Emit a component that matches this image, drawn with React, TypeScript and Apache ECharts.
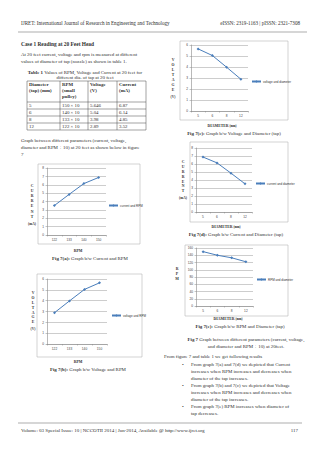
import React, { useEffect, useRef } from "react";
import * as echarts from "echarts";

// ---------- data ----------
const diameters = ["5", "6", "8", "12"];
const rpmCategories = ["122", "133", "140", "150"];
const rpmByDiameter = [150, 140, 133, 122];
const voltageByDiameter = [5.646, 5.04, 3.98, 2.89];
const currentByDiameter = [6.87, 6.14, 4.85, 3.52];
const currentByRpm = [3.52, 4.85, 6.14, 6.87];
const voltageByRpm = [2.89, 3.98, 5.04, 5.646];

const SERIF = '"Liberation Serif", "Times New Roman", serif';
const SANS = '"Liberation Sans", Arial, sans-serif';
const TXT = "#303030";
const BLUE = "#4a7ebb";

function t(text: string, x: number, y: number, o: any = {}) {
  return {
    type: "text",
    x,
    y,
    silent: true,
    style: {
      text,
      fontSize: o.size ?? 4.9,
      fontFamily: o.family ?? SERIF,
      fontWeight: o.bold ? "bold" : "normal",
      fill: o.fill ?? TXT,
      align: o.align ?? "left",
      verticalAlign: o.va ?? "middle",
      lineHeight: o.lh,
      rich: o.rich,
    },
  };
}
function ln(x1: number, y1: number, x2: number, y2: number, stroke = "#555", w = 0.5) {
  return { type: "line", silent: true, shape: { x1, y1, x2, y2 }, style: { stroke, lineWidth: w } };
}
function box(x: number, y: number, w: number, h: number) {
  return { type: "rect", silent: true, shape: { x, y, width: w, height: h }, style: { fill: "none", stroke: "#b5b5b5", lineWidth: 0.6 } };
}
const boldRich = (size = 4.9) => ({ b: { fontWeight: "bold", fontSize: size, fontFamily: SERIF, fill: TXT } });

const charts = [
  { name: "current and RPM", cats: rpmCategories, data: currentByRpm, max: 8, interval: 1,
    grid: { left: 47, top: 168, width: 59, height: 67 }, box: [38, 164, 102, 80], legend: [108, 206],
    yTitle: ["C", "U", "R", "R", "E", "N", "T"], yUnit: "(mA)", yTitleX: 32, yTitleTop: 183, yStep: 5.2,
    xTitle: "RPM", xTitleX: 78, xTitleY: 251, caption: ["Fig 7(a):", " Graph b/w Current and RPM"], capX: 90, capY: 258 },
  { name: "voltage and RPM", cats: rpmCategories, data: voltageByRpm, max: 6, interval: 1,
    grid: { left: 47, top: 279, width: 60, height: 65 }, box: [37, 274, 105, 83], legend: [111, 316],
    yTitle: ["V", "O", "L", "T", "A", "G", "E"], yUnit: "(V)", yTitleX: 33, yTitleTop: 291, yStep: 4.8,
    xTitle: "RPM", xTitleX: 78, xTitleY: 362, caption: ["Fig 7(b):", " Graph b/w Voltage and RPM"], capX: 88, capY: 369 },
  { name: "voltage and diameter", cats: diameters, data: voltageByDiameter, max: 6, interval: 1,
    grid: { left: 191, top: 45, width: 57, height: 66 }, box: [180, 41, 108, 79], legend: [251, 82],
    yTitle: ["V", "O", "L", "T", "A", "G", "E"], yUnit: "(V)", yTitleX: 173, yTitleTop: 57, yStep: 5.1,
    xTitle: "DIAMETER", xTitleX: 222, xTitleY: 126, caption: ["Fig 7(c):", " Graph b/w Voltage and Diameter (tap)"], capX: 234, capY: 133 },
  { name: "current and diameter", cats: diameters, data: currentByDiameter, max: 8, interval: 1,
    grid: { left: 196, top: 148, width: 56, height: 64 }, box: [190, 142, 98, 80], legend: [255, 184],
    yTitle: ["C", "U", "R", "R", "E", "N", "T"], yUnit: "(mA)", yTitleX: 183, yTitleTop: 160, yStep: 4.8,
    xTitle: "DIAMETER", xTitleX: 226, xTitleY: 227, caption: ["Fig 7(d):", " Graph b/w Current and Diameter (tap)"], capX: 236, capY: 234 },
  { name: "RPM and diameter", cats: diameters, data: rpmByDiameter, max: 160, interval: 20,
    grid: { left: 196, top: 248, width: 57, height: 58 }, box: [185, 245, 103, 71], legend: [256, 280],
    yTitle: ["R", "P", "M"], yUnit: "", yTitleX: 177, yTitleTop: 266, yStep: 5,
    xTitle: "DIAMETER", xTitleX: 228, xTitleY: 319, caption: ["Fig 7(e):", " Graph b/w RPM and Diameter (tap)"], capX: 240, capY: 326 },
];

function buildOption() {
  const grid: any[] = [], xAxis: any[] = [], yAxis: any[] = [], series: any[] = [], legend: any[] = [];
  const g: any[] = [];

  charts.forEach((c, i) => {
    grid.push({ ...c.grid, containLabel: false });
    xAxis.push({
      type: "category", gridIndex: i, data: c.cats, boundaryGap: true,
      axisLine: { lineStyle: { color: "#8a8a8a", width: 0.6 } },
      axisTick: { show: true, length: 1.5, lineStyle: { color: "#8a8a8a", width: 0.5 } },
      axisLabel: { fontSize: 3.2, fontFamily: SANS, color: "#444", margin: 3 },
    });
    yAxis.push({
      type: "value", gridIndex: i, min: 0, max: c.max, interval: c.interval,
      axisLine: { show: true, lineStyle: { color: "#8a8a8a", width: 0.6 } },
      axisTick: { show: true, length: 1.5, lineStyle: { color: "#8a8a8a", width: 0.5 } },
      axisLabel: { fontSize: 3.2, fontFamily: SANS, color: "#444", margin: 3 },
      splitLine: { lineStyle: { color: "#9a9a9a", width: 0.5 } },
    });
    series.push({
      type: "line", name: c.name, xAxisIndex: i, yAxisIndex: i, data: c.data,
      symbol: "diamond", symbolSize: 3, itemStyle: { color: BLUE },
      lineStyle: { color: BLUE, width: 1 },
    });
    legend.push({
      data: [c.name], left: c.legend[0], top: c.legend[1] - 2, padding: 0,
      itemWidth: 9, itemHeight: 3, itemGap: 2,
      textStyle: { fontSize: 3, fontFamily: SANS, color: "#333", padding: [0, 0, 0, -3] },
    });

    g.push(box(c.box[0], c.box[1], c.box[2], c.box[3]));
    g.push(t(c.yTitle.join("\n"), c.yTitleX, c.yTitleTop, { size: 3.8, bold: true, align: "center", va: "top", lh: c.yStep }));
    if (c.yUnit) {
      g.push(t(c.yUnit, c.yTitleX, c.yTitleTop + c.yTitle.length * c.yStep + 2.5, { size: 3.5, bold: true, align: "center", va: "top" }));
    }
    if (c.xTitle === "RPM") {
      g.push(t(c.xTitle, c.xTitleX, c.xTitleY, { size: 3.8, bold: true, align: "center" }));
    } else {
      g.push(t("{b|DIAMETER} {s|(mm)}", c.xTitleX, c.xTitleY, {
        size: 3.8, align: "center",
        rich: { b: { fontWeight: "bold", fontSize: 3.8, fontFamily: SERIF, fill: TXT }, s: { fontSize: 3, fontFamily: SERIF, fontWeight: "bold", fill: TXT } },
      }));
    }
    g.push(t(`{b|${c.caption[0]}}${c.caption[1]}`, c.capX, c.capY, { size: 4.9, align: "center", rich: boldRich(4.9) }));
  });

  // header
  g.push(t("IJRET: International Journal of Research in Engineering and Technology", 21, 23, { size: 5.1 }));
  g.push(t("eISSN: 2319-1163 | pISSN: 2321-7308", 300, 23, { size: 5.1, align: "right" }));
  g.push(ln(18, 32, 307, 32, "#777", 0.6));

  // left column text
  g.push(t("Case 1 Reading at 20 Feet Head", 21, 44, { size: 5.4, bold: true }));
  g.push(t("At 20 feet current, voltage and rpm is measured at different", 21, 54));
  g.push(t("values of diameter of tap (nozzle) as shown in table 1.", 21, 61));
  g.push(t("{b|Table 1} Values of RPM, Voltage and Current at 20 feet for", 85, 72, { align: "center", rich: boldRich() }));
  g.push(t("different dia. of tap at 20 feet", 85, 77.5, { align: "center" }));

  // table
  const colX = [27, 60, 88, 117, 146];
  const rowY = [81, 102, 109, 116, 123, 130];
  colX.forEach((x) => g.push(ln(x, rowY[0], x, rowY[rowY.length - 1], "#444", 0.5)));
  rowY.forEach((y) => g.push(ln(colX[0], y, colX[colX.length - 1], y, "#444", 0.5)));
  const heads = ["Diameter\n(tap) (mm)", "RPM\n(small\npulley)", "Voltage\n(V)", "Current\n(mA)"];
  heads.forEach((h, k) => g.push(t(h, colX[k] + 2, 82.2, { bold: true, va: "top", lh: 5.6 })));
  diameters.forEach((d, r) => {
    const y = (rowY[r + 1] + rowY[r + 2]) / 2;
    const cells = [d, `${rpmByDiameter[r]} × 10`, String(voltageByDiameter[r]), String(currentByDiameter[r])];
    cells.forEach((s, k) => g.push(t(s, colX[k] + 2, y)));
  });

  g.push(t("Graph between different parameters (current, voltage,", 21, 140));
  g.push(t("diameter and RPM ÷ 10) at 20 feet as shown below in figure", 21, 147));
  g.push(t("7", 21, 154));

  // right column text
  g.push(t("{b|Fig 7} Graph between different parameters (current, voltage,", 246, 339.5, { align: "center", rich: boldRich() }));
  g.push(t("and diameter and RPM ÷ 10) at 20feet.", 246, 346, { align: "center" }));
  g.push(t("From figure 7 and table 1 we get following results", 164, 356));
  const bullets = [
    ["From graph 7(a) and 7(d) we depicted that Current", "increases when RPM increases and decreases when", "diameter of the tap increases."],
    ["From graph 7(b) and 7(c) we depicted that Voltage", "increases when RPM increases and decreases when", "diameter of the tap increases."],
    ["From graph 7(e) RPM increases when diameter of", "tap decreases."],
  ];
  let y = 364.5;
  bullets.forEach((b) => {
    g.push(t("•", 182, y, { size: 5 }));
    b.forEach((line) => {
      g.push(t(line, 191, y));
      y += 6.8;
    });
    y += 0.8;
  });

  // footer
  g.push(ln(18, 423, 302, 423, "#777", 0.6));
  g.push(t("Volume: 03 Special Issue: 10 | NCCOTII 2014 | Jun-2014, Available @ {u|http://www.ijret.org}", 21, 430.5, {
    size: 5,
    rich: { u: { fontSize: 5, fontFamily: SERIF, fill: "#2a2a2a", textDecoration: "underline" } },
  }));
  g.push(t("117", 298, 430.5, { size: 4.9, align: "right" }));

  return {
    animation: false,
    backgroundColor: "#ffffff",
    grid, xAxis, yAxis, series, legend,
    graphic: { elements: g },
  };
}

export default function App() {
  const ref = useRef<HTMLDivElement>(null);
  useEffect(() => {
    if (!ref.current) return;
    const chart = echarts.init(ref.current, undefined, { renderer: "svg" });
    chart.setOption(buildOption() as any);
    return () => chart.dispose();
  }, []);
  return (
    <div
      ref={ref}
      style={{ position: "absolute", left: 0, top: 0, width: 320, height: 453, background: "#fff" }}
    />
  );
}
